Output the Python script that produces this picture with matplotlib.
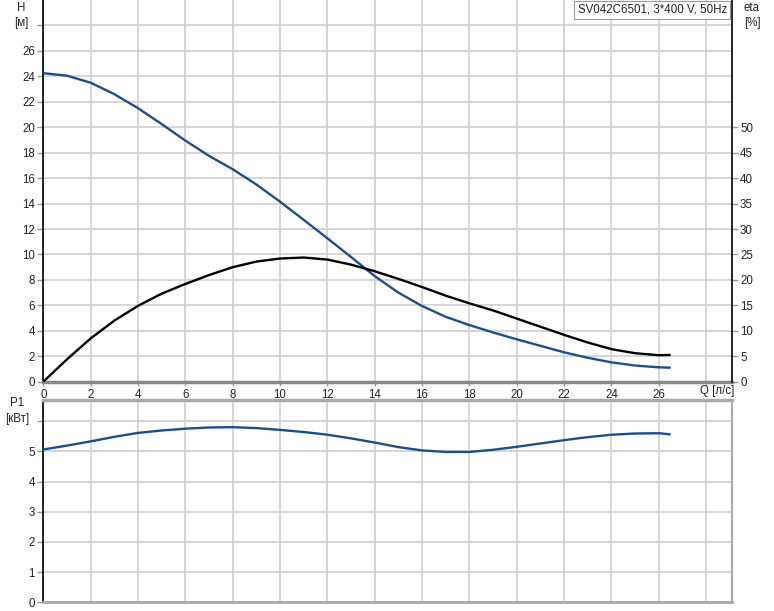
import matplotlib
matplotlib.use("Agg")
import matplotlib.pyplot as plt

plt.rcParams['font.family'] = ['Liberation Sans', 'DejaVu Sans']

# ---- data ----
q = [0, 1, 2, 3, 4, 5, 6, 7, 8, 9, 10, 11, 12, 13, 14, 15, 16, 17, 18, 19, 20,
     21, 22, 23, 24, 25, 26, 26.5]
head = [24.25, 24.05, 23.5, 22.6, 21.5, 20.25, 18.95, 17.75, 16.7, 15.5, 14.15,
        12.72, 11.27, 9.8, 8.3, 7.0, 5.95, 5.1, 4.45, 3.87, 3.33, 2.82, 2.31,
        1.88, 1.52, 1.27, 1.13, 1.1]
eta = [0, 4.4, 8.5, 12.0, 14.9, 17.3, 19.2, 20.95, 22.5, 23.6, 24.2, 24.4, 24.0,
       23.0, 21.7, 20.2, 18.6, 16.9, 15.4, 14.0, 12.4, 10.8, 9.2, 7.7, 6.4, 5.6,
       5.2, 5.25]
p1 = [5.06, 5.19, 5.33, 5.48, 5.61, 5.69, 5.75, 5.79, 5.8, 5.77, 5.71, 5.64,
      5.55, 5.43, 5.29, 5.14, 5.03, 4.98, 4.98, 5.05, 5.15, 5.26, 5.37, 5.47,
      5.55, 5.59, 5.6, 5.56]

x_ticks = list(range(0, 30, 2))
h_ticks = list(range(0, 30, 2))
eta_ticks = list(range(0, 55, 5))
p_ticks = list(range(0, 7))
title = "SV042C6501, 3*400 V, 50Hz"

BLUE = '#1b4f8c'
GRID = '#cfcfcf'
TXT = '#222222'
FS = 8.3

fig = plt.figure(figsize=(7.74, 6.11), dpi=100)
W, Hh = 774, 611

def rect(l, t, r, b):
    return [l / W, 1 - b / Hh, (r - l) / W, (b - t) / Hh]

L, R = 43.3, 731.7
ax = fig.add_axes(rect(L, 0, R, 381.7))
ax2 = ax.twinx()
axb = fig.add_axes(rect(L, 400, R, 602.3))

xmax = 29.08
# ---- top panel ----
ax.set_xlim(0, xmax)
ax.set_ylim(0, 30)
ax.set_xticks(x_ticks)
ax.set_xticklabels([str(v) if v <= 26 else '' for v in x_ticks])
ax.set_yticks(h_ticks)
ax.set_yticklabels([str(v) if v <= 26 else '' for v in h_ticks])
ax.grid(True, color=GRID, linewidth=1.2)
ax.set_axisbelow(True)
ax.plot(q, head, color=BLUE, linewidth=1.7, solid_capstyle='butt',
        solid_joinstyle='round', zorder=3)
ax.plot(q, [e / 2.5 for e in eta], color='black', linewidth=1.7,
        solid_capstyle='butt', solid_joinstyle='round', zorder=3)

for sp in ['top']:
    ax.spines[sp].set_visible(False)
    ax2.spines[sp].set_visible(False)
ax.spines['left'].set_color('black')
ax.spines['left'].set_linewidth(1.2)
ax.spines['bottom'].set_color('#888888')
ax.spines['bottom'].set_linewidth(2.5)
ax.spines['right'].set_visible(False)
ax2.spines['left'].set_visible(False)
ax2.spines['bottom'].set_visible(False)
ax2.spines['right'].set_color('black')
ax2.spines['right'].set_linewidth(1.2)

ax.tick_params(axis='both', length=4, width=1, color='#999999',
               labelsize=FS, labelcolor=TXT, pad=2)
ax.tick_params(axis='x', length=3)

ax2.set_ylim(0, 75)
ax2.set_yticks(eta_ticks)
ax2.set_yticklabels([str(v) for v in eta_ticks])
ax2.tick_params(axis='y', length=4, width=1, color='#999999',
                labelsize=FS, labelcolor=TXT, pad=2)

fig.text(21 / W, 1 - 2 / Hh, "H\n[м]", ha='center', va='top',
         fontsize=FS, color=TXT, linespacing=1.35)
fig.text(752 / W, 1 - 2 / Hh, "eta\n[%]", ha='center', va='top',
         fontsize=FS, color=TXT, linespacing=1.35)
fig.text(717 / W, 1 - 391 / Hh, "Q [л/с]", ha='center', va='center',
         fontsize=FS, color=TXT)
fig.text(727 / W, 1 - 4 / Hh, title, ha='right', va='top',
         fontsize=FS, color=TXT, zorder=5,
         bbox=dict(boxstyle='square,pad=0.3', facecolor='white',
                   edgecolor='#999999', linewidth=0.8))

# ---- bottom panel ----
axb.set_xlim(0, xmax)
axb.set_ylim(0, 6.7)
axb.set_xticks(x_ticks)
axb.set_xticklabels([])
axb.set_yticks(p_ticks)
axb.set_yticklabels([str(v) if v <= 5 else '' for v in p_ticks])
axb.grid(True, color=GRID, linewidth=1.2)
axb.set_axisbelow(True)
axb.plot(q, p1, color=BLUE, linewidth=1.7, solid_capstyle='butt',
         solid_joinstyle='round', zorder=3)
axb.spines['left'].set_color('black')
axb.spines['left'].set_linewidth(1.2)
for sp in ['top', 'right', 'bottom']:
    axb.spines[sp].set_color('#aaaaaa')
axb.spines['top'].set_linewidth(2.5)
axb.spines['bottom'].set_linewidth(2.0)
axb.spines['right'].set_linewidth(1.5)
axb.tick_params(axis='x', length=0)
axb.tick_params(axis='y', length=4, width=1, color='#999999',
                labelsize=FS, labelcolor=TXT, pad=2)

fig.text(17 / W, 1 - 411 / Hh, "P1\n[кВт]", ha='center', va='center',
         fontsize=FS, color=TXT, linespacing=1.35)

fig.savefig("out.png", dpi=100)
